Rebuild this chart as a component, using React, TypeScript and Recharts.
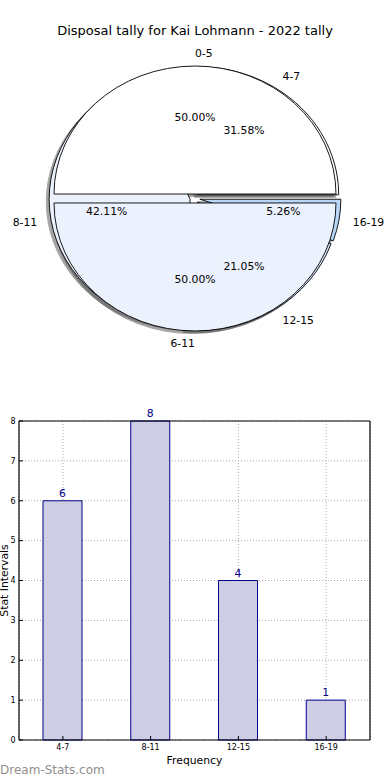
import React from 'react';
import { PieChart, Pie, BarChart, Bar, XAxis, YAxis, CartesianGrid, LabelList } from 'recharts';

// ---------- data ----------
const TITLE = 'Disposal tally for Kai Lohmann - 2022 tally';
const outerNames = ['0-5', '6-11'];
const outerValues = [50, 50];
const outerColors = ['#ffffff', '#ebf1fd'];
const innerNames = ['4-7', '8-11', '12-15', '16-19'];
const innerValues = [6, 8, 4, 1];
const innerColors = ['#ffffff', '#ebf1fd', '#d6e5fb', '#b9d5f8'];
const barCategories = ['4-7', '8-11', '12-15', '16-19'];
const barValues = [6, 8, 4, 1];
const yTicks = [0, 1, 2, 3, 4, 5, 6, 7, 8];
const X_LABEL = 'Frequency';
const Y_LABEL = 'Stat Intervals';
const WATERMARK = 'Dream-Stats.com';

const outerData = outerNames.map((name, i) => ({ name, value: outerValues[i] }));
const innerData = innerNames.map((name, i) => ({ name, value: innerValues[i] }));
const barData = barCategories.map((name, i) => ({ name, count: barValues[i] }));

// ---------- style ----------
const FONT = '"DejaVu Sans", Verdana, sans-serif';
const PIE_CX = 195;
const PIE_CY = 198.5;
const PIE_R = 141;
const RATIO = 128 / 141;
const EXPLODE = 0.035;
const SHADOW = 0.02;

const geom = (p: any) => {
  const rx = p.outerRadius;
  const ry = rx * RATIO;
  const m = (p.midAngle * Math.PI) / 180;
  const ox = p.cx + EXPLODE * rx * Math.cos(m);
  const oy = p.cy - EXPLODE * ry * Math.sin(m);
  return { rx, ry, ox, oy, m };
};

const wedgePath = (ox: number, oy: number, rx: number, ry: number, a1: number, a2: number) => {
  const r1 = (a1 * Math.PI) / 180;
  const r2 = (a2 * Math.PI) / 180;
  const x1 = ox + rx * Math.cos(r1);
  const y1 = oy - ry * Math.sin(r1);
  const x2 = ox + rx * Math.cos(r2);
  const y2 = oy - ry * Math.sin(r2);
  const large = a2 - a1 > 180 ? 1 : 0;
  return `M${ox},${oy}L${x1},${y1}A${rx},${ry} 0 ${large} 0 ${x2},${y2}Z`;
};

const makeShadow = () => (p: any) => {
  const g = geom(p);
  return (
    <path
      d={wedgePath(g.ox - SHADOW * g.rx, g.oy + SHADOW * g.ry, g.rx, g.ry, p.startAngle, p.endAngle)}
      fill="#4d4d4d"
      stroke="#4d4d4d"
      strokeWidth={1}
      opacity={0.5}
    />
  );
};

const makeWedge = (colors: string[]) => (p: any) => {
  const g = geom(p);
  return (
    <path
      d={wedgePath(g.ox, g.oy, g.rx, g.ry, p.startAngle, p.endAngle)}
      fill={colors[p.index]}
      stroke="#000"
      strokeWidth={0.9}
    />
  );
};

const makeText = (names: string[]) => (p: any) => {
  const g = geom(p);
  const px = g.ox + 0.6 * g.rx * Math.cos(g.m);
  const py = g.oy - 0.6 * g.ry * Math.sin(g.m);
  const nx = g.ox + 1.1 * g.rx * Math.cos(g.m);
  const ny = g.oy - 1.1 * g.ry * Math.sin(g.m);
  const anchor = Math.cos(g.m) > 0 ? 'start' : 'end';
  return (
    <g>
      <text x={px} y={py} textAnchor="middle" dominantBaseline="central" fontSize={10.8} fontFamily={FONT} fill="#000">
        {(p.percent * 100).toFixed(2) + '%'}
      </text>
      <text x={nx} y={ny} textAnchor={anchor} dominantBaseline="central" fontSize={10.8} fontFamily={FONT} fill="#000">
        {names[p.index]}
      </text>
    </g>
  );
};

const pieCommon = {
  dataKey: 'value',
  cx: PIE_CX,
  cy: PIE_CY,
  outerRadius: PIE_R,
  innerRadius: 0,
  startAngle: 0,
  endAngle: 360,
  fill: 'transparent',
  stroke: 'none',
  labelLine: false,
  isAnimationActive: false,
} as const;

const YLabel = (props: any) => {
  const vb = props.viewBox || {};
  const cy = (vb.y ?? 31) + (vb.height ?? 319) / 2;
  return (
    <text x={8.3} y={cy} transform={`rotate(-90 8.3 ${cy})`} textAnchor="middle" fontSize={10.8} fontFamily={FONT} fill="#000">
      {Y_LABEL}
    </text>
  );
};

const XLabel = (props: any) => {
  const vb = props.viewBox || {};
  const cx = (vb.x ?? 19) + (vb.width ?? 351) / 2;
  const y = (vb.y ?? 350) + 20;
  return (
    <text x={cx} y={y} textAnchor="middle" dominantBaseline="central" fontSize={10.8} fontFamily={FONT} fill="#000">
      {X_LABEL}
    </text>
  );
};

export default function App() {
  return (
    <div style={{ position: 'absolute', left: 0, top: 0, width: 390, height: 780, background: '#fff', overflow: 'hidden' }}>
      <svg width={390} height={60} style={{ position: 'absolute', left: 0, top: 0 }}>
        <text x={195} y={30} textAnchor="middle" dominantBaseline="central" fontSize={13} fontFamily={FONT} fill="#000">
          {TITLE}
        </text>
      </svg>
      <div style={{ position: 'absolute', left: 0, top: 0 }}>
        <PieChart width={390} height={390} margin={{ top: 0, right: 0, bottom: 0, left: 0 }}>
          <Pie {...pieCommon} data={innerData} label={makeShadow()} />
          <Pie {...pieCommon} data={outerData} label={makeShadow()} />
          <Pie {...pieCommon} data={innerData} label={makeWedge(innerColors)} />
          <Pie {...pieCommon} data={outerData} label={makeWedge(outerColors)} />
          <Pie {...pieCommon} data={innerData} label={makeText(innerNames)} />
          <Pie {...pieCommon} data={outerData} label={makeText(outerNames)} />
        </PieChart>
      </div>
      <div style={{ position: 'absolute', left: 0, top: 390 }}>
        <BarChart width={390} height={390} data={barData} margin={{ top: 0, right: 0, bottom: 0, left: 0 }} barCategoryGap={0}>
          <CartesianGrid xAxisId="bottom" yAxisId="left" stroke="#a8a8a8" strokeDasharray="1 2" strokeWidth={1} />
          <XAxis
            xAxisId="bottom"
            dataKey="name"
            orientation="bottom"
            height={40}
            interval={0}
            tickSize={-4}
            tickMargin={8}
            axisLine={{ stroke: '#000', strokeWidth: 1.2 }}
            tickLine={{ stroke: '#000' }}
            tick={{ fontSize: 8, fontFamily: FONT, fill: '#000' }}
            label={XLabel}
          />
          <XAxis
            xAxisId="top"
            dataKey="name"
            orientation="top"
            height={31}
            interval={0}
            tickSize={-4}
            tick={false}
            axisLine={{ stroke: '#000', strokeWidth: 1.2 }}
            tickLine={{ stroke: '#000' }}
          />
          <YAxis
            yAxisId="left"
            orientation="left"
            width={19}
            domain={[0, 8]}
            ticks={yTicks}
            interval={0}
            tickSize={-4}
            tickMargin={7.5}
            axisLine={{ stroke: '#000', strokeWidth: 1.2 }}
            tickLine={{ stroke: '#000' }}
            tick={{ fontSize: 8, fontFamily: FONT, fill: '#000' }}
            label={YLabel}
          />
          <YAxis
            yAxisId="right"
            orientation="right"
            width={20}
            domain={[0, 8]}
            ticks={yTicks}
            interval={0}
            tickSize={-4}
            tick={false}
            axisLine={{ stroke: '#000', strokeWidth: 1.2 }}
            tickLine={{ stroke: '#000' }}
          />
          <Bar
            xAxisId="bottom"
            yAxisId="left"
            dataKey="count"
            barSize={39}
            fill="#cdcde4"
            stroke="#00008b"
            strokeWidth={1}
            isAnimationActive={false}
          >
            <LabelList dataKey="count" position="top" offset={4} fill="#00008b" fontSize={10.8} fontFamily={FONT} />
          </Bar>
        </BarChart>
      </div>
      <div
        style={{
          position: 'absolute',
          left: 0,
          top: 762,
          fontFamily: FONT,
          fontSize: 12,
          color: '#8f8f8f',
          lineHeight: '16px',
          whiteSpace: 'nowrap',
        }}
      >
        {WATERMARK}
      </div>
    </div>
  );
}
